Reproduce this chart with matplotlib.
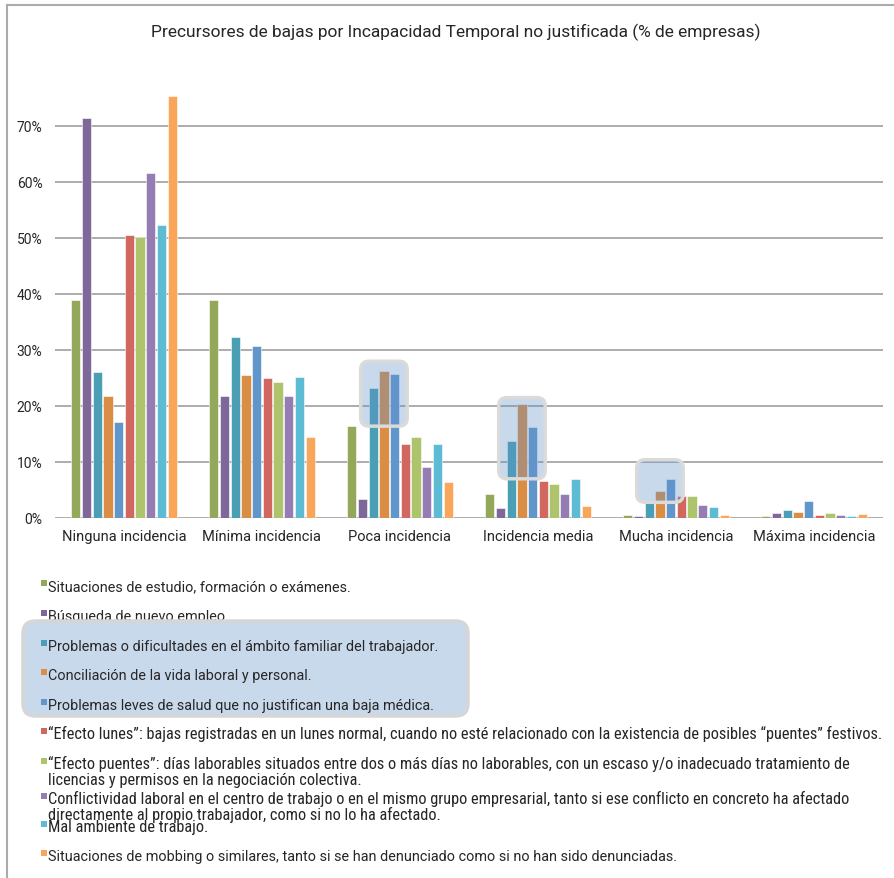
import numpy as np
import matplotlib.pyplot as plt
from matplotlib import font_manager
from matplotlib.patches import FancyBboxPatch, Rectangle
from matplotlib.lines import Line2D

plt.rcParams['font.family'] = ['Roboto', 'DejaVu Sans']

categorias = ['Ninguna incidencia', 'Mínima incidencia', 'Poca incidencia',
              'Incidencia media', 'Mucha incidencia', 'Máxima incidencia']

# % de empresas por precursor y grado de incidencia
estudio        = [38.9, 38.9, 16.5,  4.2, 0.6, 0.35]
busqueda       = [71.5, 21.8,  3.4,  1.7, 0.35, 0.9]
familiar       = [26.0, 32.3, 23.2, 13.7, 2.6, 1.4]
conciliacion   = [21.8, 25.5, 26.3, 20.3, 4.8, 1.1]
salud          = [17.1, 30.7, 25.8, 16.3, 6.9, 3.0]
efecto_lunes   = [50.6, 25.0, 13.2,  6.6, 4.0, 0.6]
efecto_puentes = [50.1, 24.2, 14.5,  6.1, 4.0, 0.9]
conflictividad = [61.6, 21.8,  9.1,  4.2, 2.4, 0.6]
mal_ambiente   = [52.4, 25.2, 13.2,  6.9, 1.9, 0.35]
mobbing        = [75.3, 14.5,  6.4,  2.1, 0.5, 0.65]

series = [estudio, busqueda, familiar, conciliacion, salud,
          efecto_lunes, efecto_puentes, conflictividad, mal_ambiente, mobbing]

etiquetas = [
    'Situaciones de estudio, formación o exámenes.',
    'Búsqueda de nuevo empleo.',
    'Problemas o dificultades en el ámbito familiar del trabajador.',
    'Conciliación de la vida laboral y personal.',
    'Problemas leves de salud que no justifican una baja médica.',
    '“Efecto lunes”: bajas registradas en un lunes normal, cuando no esté relacionado con la existencia de posibles “puentes” festivos.',
    '“Efecto puentes”: días laborables situados entre dos o más días no laborables, con un escaso y/o inadecuado tratamiento de\nlicencias y permisos en la negociación colectiva.',
    'Conflictividad laboral en el centro de trabajo o en el mismo grupo empresarial, tanto si ese conflicto en concreto ha afectado\ndirectamente al propio trabajador, como si no lo ha afectado.',
    'Mal ambiente de trabajo.',
    'Situaciones de mobbing o similares, tanto si se han denunciado como si no han sido denunciadas.',
]

colores = ['#94a85c', '#7e6799', '#4a9fb5', '#d98d45', '#6196cb',
           '#d0685f', '#adc46c', '#957cb2', '#5dbbd4', '#f9a65a']

W, H = 894, 879
def fx(px):
    return px / W
def fy(py):
    return 1 - py / H

fig = plt.figure(figsize=(W / 100, H / 100), dpi=100)
fig.patch.set_facecolor('white')

# marco gris
fig.add_artist(Line2D([fx(7), 1], [fy(6), fy(6)], color='#ababab', lw=1.5))
fig.add_artist(Line2D([fx(7), fx(7)], [fy(6), 0], color='#ababab', lw=1.5))

ax = fig.add_axes([fx(55), fy(519), (883 - 55) / W, (519 - 71) / H])
x = np.arange(len(categorias))
paso = 0.0775
ancho = 0.066
for i, (vals, c) in enumerate(zip(series, colores)):
    ax.bar(x + (i - 4.5) * paso, vals, width=ancho, color=c,
           edgecolor='white', linewidth=0.4, zorder=2)

ax.set_xlim(-0.5, 5.5)
ax.set_ylim(0, 80)
ax.set_yticks(range(0, 80, 10))
ax.set_yticklabels([f'{v}%' for v in range(0, 80, 10)], fontsize=10, color='#262626')
ax.set_xticks(x)
ax.set_xticklabels(categorias, fontsize=10.5, color='#262626')
ax.tick_params(length=0)
ax.tick_params(axis='y', pad=9)
ax.tick_params(axis='x', pad=8)
ax.grid(axis='y', color='#a6a6a6', lw=1.3, zorder=1)
for s in ax.spines.values():
    s.set_visible(False)

# recuadros que resaltan familiar / conciliación / salud
asp = (828 / 6) / (448 / 80)
margen = 0.058
for cat, (y0, y1) in zip([2, 3, 4], [(16.4, 28.0), (7.0, 21.5), (2.8, 10.4)]):
    x0 = cat + (2 - 4.5) * paso - ancho / 2 - margen
    x1 = cat + (4 - 4.5) * paso + ancho / 2 + margen
    ax.add_patch(FancyBboxPatch((x0, y0), x1 - x0, y1 - y0,
                                boxstyle='round,pad=0,rounding_size=0.06',
                                mutation_aspect=asp,
                                facecolor=(98 / 255, 146 / 255, 201 / 255, 0.35),
                                edgecolor='#dadada', lw=2.5, zorder=3))

fig.text(fx(456), fy(32), 'Precursores de bajas por Incapacidad Temporal no justificada (% de empresas)',
         ha='center', va='center', fontsize=12.5, color='#262626')

# leyenda
nombres = {f.name for f in font_manager.fontManager.ttflist}
if 'Liberation Sans Narrow' in nombres:
    estrecha, tam_estrecha = 'Liberation Sans Narrow', 12.1
elif 'Roboto Condensed' in nombres:
    estrecha, tam_estrecha = 'Roboto Condensed', 11.75
else:
    estrecha, tam_estrecha = 'Roboto', 10.4

fig.add_artist(FancyBboxPatch((fx(23), fy(717)), fx(468) - fx(23), (717 - 622) / H,
                              boxstyle='round,pad=0,rounding_size=0.014',
                              mutation_aspect=W / H, transform=fig.transFigure,
                              facecolor='#c9d9ec', edgecolor='#d6d6d6', lw=2.5, zorder=2))

bases = [591, 621, 651, 680, 710, 739, 769, 804, 832, 861]
for i, (txt, c, yb) in enumerate(zip(etiquetas, colores, bases)):
    if i in (5, 6, 7, 8):
        fam, tam = [estrecha, 'DejaVu Sans'], tam_estrecha
    else:
        fam, tam = ['Roboto', 'DejaVu Sans'], 10.35
    z = 1 if i == 1 else 3
    fig.add_artist(Rectangle((fx(41), fy(yb - 4)), 6 / W, 6 / H,
                             transform=fig.transFigure, facecolor=c,
                             edgecolor='none', zorder=z))
    for k, linea in enumerate(txt.split('\n')):
        fig.text(fx(48), fy(yb + 16.5 * k), linea, ha='left', va='baseline',
                 fontsize=tam, family=fam, color='#262626', zorder=z)

fig.savefig('out.png', dpi=100)
